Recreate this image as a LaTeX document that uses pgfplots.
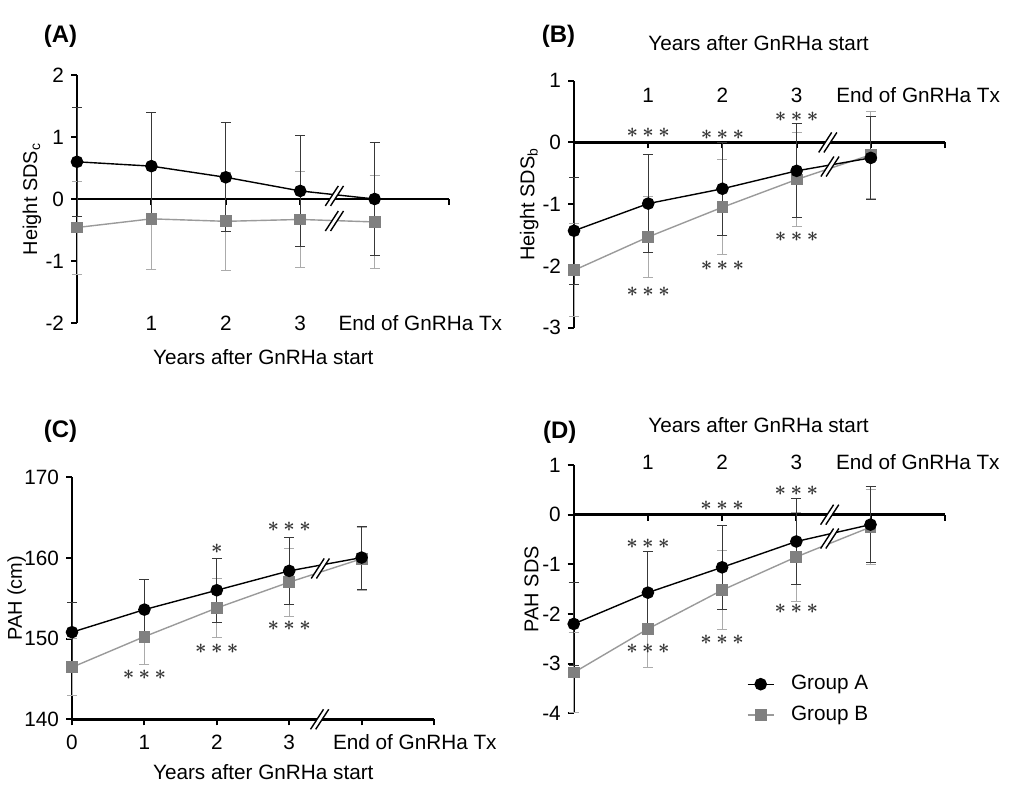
\documentclass[border=0pt]{standalone}
\usepackage{pgfplots}
\pgfplotsset{compat=1.18}
\usepackage{fontspec}
\setmainfont{Liberation Sans}
\newcommand\fs{\fontsize{10.4}{12}\selectfont}
\newcommand\three{${\ast}\mkern3.5mu{\ast}\mkern3.5mu{\ast}$}
\newcommand\one{${\ast}$}
\definecolor{gB}{HTML}{808080}
\definecolor{lineB}{HTML}{9A9A9A}
\definecolor{errB}{HTML}{ABABAB}
\definecolor{errA}{HTML}{383838}
\tikzset{
  brk/.pic={
    \fill[white] (-4.55bp,-5bp) -- (1.95bp,5bp) -- (4.55bp,5bp) -- (-1.95bp,-5bp) -- cycle;
    \draw[black,line width=0.7bp] (-4.55bp,-5bp) -- (1.95bp,5bp) (-1.95bp,-5bp) -- (4.55bp,5bp);
  },
  lab/.style={font=\fs, inner sep=0pt},
  ast/.style={inner sep=0pt, text=black!80, font=\fontsize{10}{11}\selectfont\boldmath},
}
\pgfplotsset{
  base/.style={
    scale only axis, anchor=south west, clip=false,
    xmin=0, xmax=5,
    axis y line*=left,
    axis line style={-, line width=1.2bp},
    tick align=outside,
    major tick length=3bp,
    every tick/.style={black, line width=1bp},
    xticklabels={},
    tick label style={font=\fs},
    label style={font=\fs},
    every axis y label/.style={rotate=90, anchor=center},
  },
  serA/.style={black, line width=0.7bp, mark=*, mark size=2.8bp, mark options={solid, fill=black, draw=black}},
  serB/.style={color=lineB, line width=0.7bp, mark=square*, mark size=2.6bp, mark options={solid, fill=gB, draw=gB}},
  errA/.style={forget plot, only marks, mark=none,
    error bars/y dir=both, error bars/y explicit,
    error bars/error bar style={color=errA, line width=0.5bp},
    error bars/error mark options={rotate=90, color=errA, line width=0.5bp, mark size=2.5bp}},
  errB/.style={forget plot, only marks, mark=none,
    error bars/y dir=both, error bars/y explicit,
    error bars/error bar style={color=errB, line width=0.5bp},
    error bars/error mark options={rotate=90, color=errB, line width=0.5bp, mark size=2.5bp}},
}
\begin{document}
\begin{tikzpicture}[x=1bp,y=1bp]
\useasboundingbox (0,0) rectangle (506,397);

% ---------------- Panel A ----------------
\begin{axis}[base, at={(38.5bp,235.5bp)}, width=186bp, height=124bp,
  axis x line*=middle, ymin=-2, ymax=2, ytick={-2,-1,0,1,2}, yticklabels={-2,-1,0,1,2},
  xtick={1,2,3,4,5},
  ylabel={Height SDS\textsubscript{c}}, ylabel style={at={(axis description cs:-0.121,0.5)}}]
\addplot[errB] table[x=x,y=y,y error=e]{
x y e
0 -0.46 0.75
1 -0.32 0.81
2 -0.36 0.79
3 -0.33 0.78
4 -0.37 0.75
};
\addplot[errA] table[x=x,y=y,y error=e]{
x y e
0 0.60 0.88
1 0.53 0.86
2 0.35 0.88
3 0.13 0.89
4 0.00 0.91
};
\addplot[serB] table[x=x,y=y]{
x y
0 -0.46
1 -0.32
2 -0.36
3 -0.33
4 -0.37
};
\addplot[serA] table[x=x,y=y]{
x y
0 0.60
1 0.53
2 0.35
3 0.13
4 0.00
};
\path (axis cs:3.46,0.05) pic {brk};
\path (axis cs:3.46,-0.355) pic {brk};
\node[lab] at (axis cs:1,-2) {1};
\node[lab] at (axis cs:2,-2) {2};
\node[lab] at (axis cs:3,-2) {3};
\node[lab, anchor=west] at (axis cs:3.51,-2) {End of GnRHa Tx};
\end{axis}

% ---------------- Panel B ----------------
\begin{axis}[base, at={(287bp,233.15bp)}, width=185.5bp, height=123.5bp,
  axis x line*=middle, ymin=-3, ymax=1, ytick={-3,-2,-1,0,1}, yticklabels={-3,-2,-1,0,1},
  xtick={1,2,3,4,5},
  ylabel={Height SDS\textsubscript{b}}, ylabel style={at={(axis description cs:-0.121,0.5)}}]
\addplot[errB] table[x=x,y=y,y error=e]{
x y e
0 -2.07 0.75
1 -1.53 0.65
2 -1.05 0.77
3 -0.60 0.76
4 -0.20 0.70
};
\addplot[errA] table[x=x,y=y,y error=e]{
x y e
0 -1.43 0.87
1 -0.99 0.80
2 -0.75 0.75
3 -0.46 0.76
4 -0.25 0.67
};
\addplot[serB] table[x=x,y=y]{
x y
0 -2.07
1 -1.53
2 -1.05
3 -0.60
4 -0.20
};
\addplot[serA] table[x=x,y=y]{
x y
0 -1.43
1 -0.99
2 -0.75
3 -0.46
4 -0.25
};
\path (axis cs:3.42,0) pic {brk};
\path (axis cs:3.45,-0.39) pic {brk};
\node[lab] at (axis cs:1,0.77) {1};
\node[lab] at (axis cs:2,0.77) {2};
\node[lab] at (axis cs:3,0.77) {3};
\node[lab, anchor=west] at (axis cs:3.53,0.77) {End of GnRHa Tx};
\node[ast] at (axis cs:1,0.16) {\three};
\node[ast] at (axis cs:2,0.12) {\three};
\node[ast] at (axis cs:3,0.41) {\three};
\node[ast] at (axis cs:1,-2.42) {\three};
\node[ast] at (axis cs:2,-2.0) {\three};
\node[ast] at (axis cs:3,-1.53) {\three};
\end{axis}

% ---------------- Panel C ----------------
\begin{axis}[base, at={(36bp,37.35bp)}, width=181bp, height=121bp,
  axis x line*=bottom, ymin=140, ymax=170, ytick={140,150,160,170}, yticklabels={140,150,160,170},
  xtick={0,1,2,3,4,5},
  ylabel={PAH (cm)}, ylabel style={at={(axis description cs:-0.153,0.5)}}]
\addplot[errB] table[x=x,y=y,y error=e]{
x y e
0 146.45 3.55
1 150.25 3.40
2 153.8 3.65
3 157.0 4.2
4 159.9 3.9
};
\addplot[errA] table[x=x,y=y,y error=e]{
x y e
0 150.8 3.65
1 153.6 3.75
2 156.0 3.95
3 158.4 4.15
4 160.05 3.9
};
\addplot[serB] table[x=x,y=y]{
x y
0 146.45
1 150.25
2 153.8
3 157.0
4 159.9
};
\addplot[serA] table[x=x,y=y]{
x y
0 150.8
1 153.6
2 156.0
3 158.4
4 160.05
};
\path (axis cs:3.42,140) pic {brk};
\path (axis cs:3.43,158.7) pic {brk};
\node[lab] at (axis cs:0,137.2) {0};
\node[lab] at (axis cs:1,137.2) {1};
\node[lab] at (axis cs:2,137.2) {2};
\node[lab] at (axis cs:3,137.2) {3};
\node[lab, anchor=west] at (axis cs:3.6,137.2) {End of GnRHa Tx};
\node[ast] at (axis cs:1,145.5) {\three};
\node[ast] at (axis cs:2,161.1) {\one};
\node[ast] at (axis cs:2,148.8) {\three};
\node[ast] at (axis cs:3,163.9) {\three};
\node[ast] at (axis cs:3,151.65) {\three};
\end{axis}

% ---------------- Panel D ----------------
\begin{axis}[base, at={(286.85bp,40.35bp)}, width=185.5bp, height=124.15bp,
  axis x line*=middle, ymin=-4, ymax=1, ytick={-4,-3,-2,-1,0,1}, yticklabels={-4,-3,-2,-1,0,1},
  xtick={1,2,3,4,5},
  ylabel={PAH SDS}, ylabel style={at={(axis description cs:-0.114,0.5)}},
  reverse legend,
  legend style={draw=none, fill=none, inner sep=0pt, row sep=6.7bp,
    nodes={inner sep=0pt, font=\fs},
    /tikz/every odd column/.append style={column sep=8.3bp},
    at={(axis description cs:0.466,0.154)}, anchor=north west},
  legend cell align=left,
  legend image code/.code={\draw[mark repeat=2,mark phase=2,#1] plot coordinates {(0bp,0bp) (6.5bp,0bp) (13bp,0bp)};}]
\addplot[errB] table[x=x,y=y,y error=e]{
x y e
0 -3.18 0.80
1 -2.30 0.78
2 -1.52 0.80
3 -0.85 0.90
4 -0.25 0.75
};
\addplot[errA] table[x=x,y=y,y error=e]{
x y e
0 -2.20 0.83
1 -1.57 0.83
2 -1.06 0.84
3 -0.54 0.86
4 -0.20 0.77
};
\addplot[serB] table[x=x,y=y]{
x y
0 -3.18
1 -2.30
2 -1.52
3 -0.85
4 -0.25
};
\addlegendentry{Group B}
\addplot[serA] table[x=x,y=y]{
x y
0 -2.20
1 -1.57
2 -1.06
3 -0.54
4 -0.20
};
\addlegendentry{Group A}
\path (axis cs:3.45,0) pic {brk};
\path (axis cs:3.45,-0.48) pic {brk};
\node[lab] at (axis cs:1,1.06) {1};
\node[lab] at (axis cs:2,1.06) {2};
\node[lab] at (axis cs:3,1.06) {3};
\node[lab, anchor=west] at (axis cs:3.53,1.06) {End of GnRHa Tx};
\node[ast] at (axis cs:1,-0.59) {\three};
\node[ast] at (axis cs:2,0.17) {\three};
\node[ast] at (axis cs:3,0.48) {\three};
\node[ast] at (axis cs:1,-2.71) {\three};
\node[ast] at (axis cs:2,-2.52) {\three};
\node[ast] at (axis cs:3,-1.9) {\three};
\end{axis}

% panel letters and axis titles
\node[font=\fontsize{12}{14}\selectfont\bfseries] at (30.25,379) {(A)};
\node[font=\fontsize{12}{14}\selectfont\bfseries] at (279.25,378.65) {(B)};
\node[font=\fontsize{12}{14}\selectfont\bfseries] at (30.25,181.5) {(C)};
\node[font=\fontsize{12}{14}\selectfont\bfseries] at (279.85,181) {(D)};
\node[lab] at (131.65,218.65) {Years after GnRHa start};
\node[lab] at (379.25,375.35) {Years after GnRHa start};
\node[lab] at (131.65,11.15) {Years after GnRHa start};
\node[lab] at (379.25,184.5) {Years after GnRHa start};
\end{tikzpicture}
\end{document}
